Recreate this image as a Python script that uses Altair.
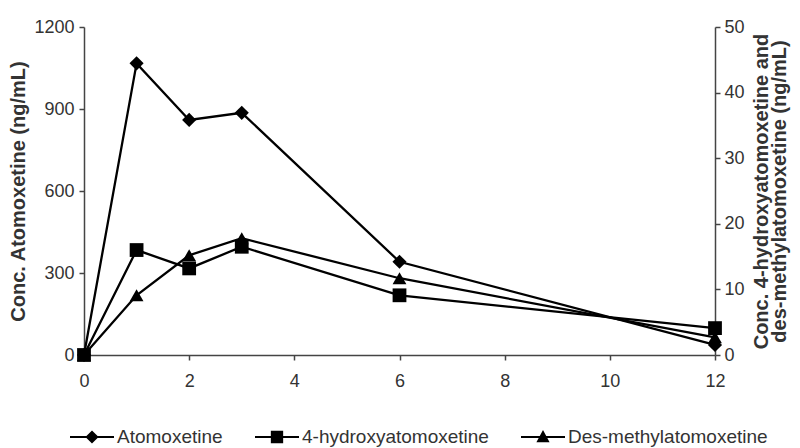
import altair as alt
import pandas as pd

# ---- data ----
time_h = [0, 1, 2, 3, 6, 12]
atomoxetine = [0, 1067, 860, 886, 341, 37]          # ng/mL (left axis)
hydroxy = [0, 16.0, 13.2, 16.5, 9.1, 4.1]           # ng/mL (right axis)
desmethyl = [0, 9.1, 15.2, 17.8, 11.7, 2.7]         # ng/mL (right axis)
series_names = ["Atomoxetine", "4-hydroxyatomoxetine", "Des-methylatomoxetine"]
x_ticks = [0, 2, 4, 6, 8, 10, 12]
left_ticks = [0, 300, 600, 900, 1200]
right_ticks = [0, 10, 20, 30, 40, 50]
left_title = "Conc. Atomoxetine (ng/mL)"
right_title = ["Conc. 4-hydroxyatomoxetine and", "des-methylatomoxetine (ng/mL)"]

df_left = pd.DataFrame({"t": time_h, "v": atomoxetine, "s": series_names[0]})
df_right = pd.concat([
    pd.DataFrame({"t": time_h, "v": hydroxy, "s": series_names[1]}),
    pd.DataFrame({"t": time_h, "v": desmethyl, "s": series_names[2]}),
], ignore_index=True)
df_all = pd.concat([df_left, df_right], ignore_index=True)

FONT = "Liberation Sans"

x_enc = alt.X("t:Q", scale=alt.Scale(domain=[0, 12], nice=False),
              axis=alt.Axis(values=x_ticks, title=None, labelPadding=12, tickSize=5,
                            labelFlush=False))

y_left = alt.Y("v:Q", scale=alt.Scale(domain=[0, 1200], nice=False),
               axis=alt.Axis(values=left_ticks, title=left_title, orient="left", format="d",
                             titlePadding=5, labelPadding=5, labelFlush=False))
y_right = alt.Y("v:Q", scale=alt.Scale(domain=[0, 50], nice=False),
                axis=alt.Axis(values=right_ticks, title=right_title, orient="right", format="d",
                              titleAngle=270, titlePadding=9, labelPadding=4,
                              titleLineHeight=18, labelFlush=False))

left_line = alt.Chart(df_left).mark_line(color="black", strokeWidth=2.3).encode(x=x_enc, y=y_left)
left_pts = alt.Chart(df_left).mark_point(shape="diamond", filled=True, size=200,
                                         color="black", opacity=1).encode(x=x_enc, y=y_left)

# legend symbols: a thin bar (the line) plus the marker, drawn as filled paths
bar = "M-1,-0.05H1V0.05H-1Z"
legend_paths = [
    bar + "M0,-0.3L0.3,0L0,0.3L-0.3,0Z",
    bar + "M-0.28,-0.28H0.28V0.28H-0.28Z",
    bar + "M0,-0.32L0.3,0.24L-0.3,0.24Z",
]
legend_layer = alt.Chart(df_all).transform_filter("false").mark_point(
    filled=True, color="black", opacity=1
).encode(
    x=x_enc, y=y_left,
    shape=alt.Shape("s:N", scale=alt.Scale(domain=series_names, range=legend_paths),
                    legend=alt.Legend(orient="none", legendX=-14, legendY=388,
                                      direction="horizontal", title=None,
                                      symbolSize=1936, symbolStrokeWidth=0,
                                      symbolFillColor="black",
                                      labelFont=FONT, labelFontSize=19, labelColor="#333",
                                      labelLimit=400, labelOffset=3, columnPadding=32)),
)

right_line = alt.Chart(df_right).mark_line(color="black", strokeWidth=2.3).encode(
    x=x_enc, y=y_right, detail="s:N")
right_pts = alt.Chart(df_right).mark_point(filled=True, size=190, color="black", opacity=1).encode(
    x=x_enc, y=y_right,
    shape=alt.Shape("s:N", scale=alt.Scale(domain=series_names[1:], range=["square", "triangle-up"]),
                    legend=None))

left = alt.layer(left_line, left_pts, legend_layer)
right = alt.layer(right_line, right_pts)

chart = alt.layer(left, right).resolve_scale(y="independent", shape="independent").properties(
    width=631, height=328,
    autosize=alt.AutoSizeParams(type="none"),
    padding={"left": 76, "top": 19, "right": 77, "bottom": 93},
    background="white",
).configure_view(stroke=None).configure_axis(
    grid=False, domainColor="#444", domainWidth=1.5, tickColor="#444", tickWidth=1.5,
    tickSize=5, labelFont=FONT, labelFontSize=18, labelColor="#333",
    titleFont=FONT, titleFontSize=20, titleFontWeight="bold", titleColor="#333",
)

chart.save("out.html", embed_options={"renderer": "svg", "actions": False})
